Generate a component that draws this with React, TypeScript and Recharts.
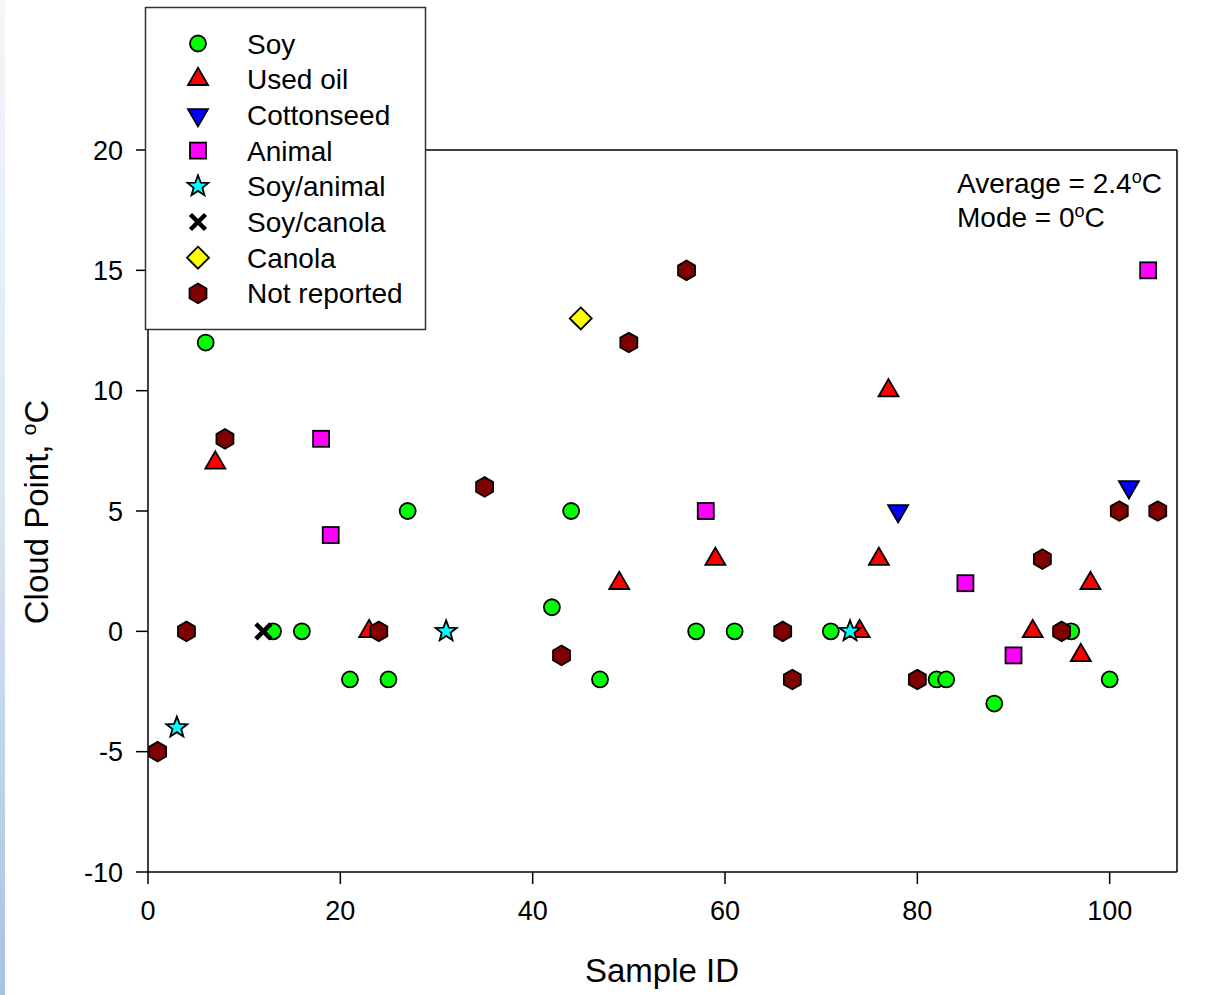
import { ScatterChart, Scatter, XAxis, YAxis, ReferenceLine } from "recharts";

const soyX = [6, 13, 16, 21, 25, 27, 42, 44, 47, 57, 61, 71, 82, 83, 88, 96, 100];
const soyY = [12, 0, 0, -2, -2, 5, 1, 5, -2, 0, 0, 0, -2, -2, -3, 0, -2];

const usedOilX = [7, 23, 49, 59, 74, 76, 77, 92, 97, 98];
const usedOilY = [7, 0, 2, 3, 0, 3, 10, 0, -1, 2];

const cottonX = [78, 102];
const cottonY = [5, 6];

const animalX = [18, 19, 58, 85, 90, 104];
const animalY = [8, 4, 5, 2, -1, 15];

const soyAnimalX = [3, 31, 73];
const soyAnimalY = [-4, 0, 0];

const soyCanolaX = [12];
const soyCanolaY = [0];

const canolaX = [45];
const canolaY = [13];

const notReportedX = [1, 4, 8, 24, 35, 43, 50, 56, 66, 67, 80, 93, 95, 101, 105];
const notReportedY = [-5, 0, 8, 0, 6, -1, 12, 15, 0, -2, -2, 3, 0, 5, 5];

const xTicks = [0, 20, 40, 60, 80, 100];
const yTicks = [-10, -5, 0, 5, 10, 15, 20];

const zip = (xs: number[], ys: number[]) => xs.map((x, i) => ({ x, y: ys[i] }));

const series = [
  { name: "Soy", kind: "circle", color: "#00ff00", data: zip(soyX, soyY) },
  { name: "Used oil", kind: "triangle", color: "#ff0000", data: zip(usedOilX, usedOilY) },
  { name: "Cottonseed", kind: "triangleDown", color: "#0000ff", data: zip(cottonX, cottonY) },
  { name: "Animal", kind: "square", color: "#ff00ff", data: zip(animalX, animalY) },
  { name: "Soy/animal", kind: "star", color: "#00ffff", data: zip(soyAnimalX, soyAnimalY) },
  { name: "Soy/canola", kind: "x", color: "#000000", data: zip(soyCanolaX, soyCanolaY) },
  { name: "Canola", kind: "diamond", color: "#ffff00", data: zip(canolaX, canolaY) },
  { name: "Not reported", kind: "hexagon", color: "#800000", data: zip(notReportedX, notReportedY) },
];

const FONT = "'Liberation Sans', Arial, sans-serif";

function Marker({ kind, cx, cy, fill }: { kind: string; cx: number; cy: number; fill: string }) {
  const common = { fill, stroke: "#000", strokeWidth: 1.8 };
  switch (kind) {
    case "circle":
      return <circle cx={cx} cy={cy} r={8} {...common} />;
    case "triangle":
      return <polygon points={`${cx},${cy - 11.5} ${cx + 10},${cy + 5.8} ${cx - 10},${cy + 5.8}`} {...common} />;
    case "triangleDown":
      return <polygon points={`${cx},${cy + 11.5} ${cx + 10},${cy - 5.8} ${cx - 10},${cy - 5.8}`} {...common} />;
    case "square":
      return <rect x={cx - 8} y={cy - 8} width={16} height={16} {...common} />;
    case "diamond":
      return <polygon points={`${cx},${cy - 11} ${cx + 11},${cy} ${cx},${cy + 11} ${cx - 11},${cy}`} {...common} />;
    case "star": {
      const pts: string[] = [];
      for (let i = 0; i < 10; i++) {
        const r = i % 2 === 0 ? 11 : 4.6;
        const a = -Math.PI / 2 + (i * Math.PI) / 5;
        pts.push(`${cx + r * Math.cos(a)},${cy + r * Math.sin(a)}`);
      }
      return <polygon points={pts.join(" ")} {...common} />;
    }
    case "hexagon": {
      const pts: string[] = [];
      for (let i = 0; i < 6; i++) {
        const a = -Math.PI / 2 + (i * Math.PI) / 3;
        pts.push(`${cx + 9.8 * Math.cos(a)},${cy + 9.8 * Math.sin(a)}`);
      }
      return <polygon points={pts.join(" ")} {...common} />;
    }
    case "x":
      return (
        <g stroke="#000" strokeWidth={4.5} strokeLinecap="butt">
          <line x1={cx - 7.5} y1={cy - 7.5} x2={cx + 7.5} y2={cy + 7.5} />
          <line x1={cx - 7.5} y1={cy + 7.5} x2={cx + 7.5} y2={cy - 7.5} />
        </g>
      );
    default:
      return null;
  }
}

export default function App() {
  return (
    <div
      style={{
        position: "absolute",
        left: 0,
        top: 0,
        width: 1223,
        height: 995,
        background: "#fff",
        fontFamily: FONT,
      }}
    >
      <div
        style={{
          position: "absolute",
          left: 0,
          top: 0,
          width: 5,
          height: 995,
          background: "linear-gradient(to bottom, #f3f6fa, #dbe6f1 50%, #a7c3e0)",
        }}
      />
      <ScatterChart width={1223} height={995} margin={{ top: 150, right: 46, bottom: 83, left: 88 }}>
        <XAxis
          type="number"
          dataKey="x"
          domain={[0, 107]}
          ticks={xTicks}
          allowDataOverflow
          height={40}
          tickSize={12}
          tickMargin={17}
          stroke="#000"
          strokeWidth={1.5}
          tick={{ fill: "#000", fontSize: 27 }}
        />
        <YAxis
          type="number"
          dataKey="y"
          domain={[-10, 20]}
          ticks={yTicks}
          allowDataOverflow
          width={60}
          tickSize={12}
          tickMargin={13}
          stroke="#000"
          strokeWidth={1.5}
          tick={{ fill: "#000", fontSize: 27 }}
        />
        <ReferenceLine y={20} stroke="#000" strokeWidth={1.5} />
        <ReferenceLine x={107} stroke="#000" strokeWidth={1.5} />
        {series.map((s) => (
          <Scatter
            key={s.name}
            name={s.name}
            data={s.data}
            isAnimationActive={false}
            shape={(p: any) => <Marker kind={s.kind} fill={s.color} cx={p.cx} cy={p.cy} />}
          />
        ))}
      </ScatterChart>
      <svg
        width={1223}
        height={995}
        style={{ position: "absolute", left: 0, top: 0, pointerEvents: "none", fontFamily: FONT }}
      >
        <rect x={145.5} y={7.5} width={280} height={322} fill="#fff" stroke="#333" strokeWidth={1.5} />
        {series.map((s, i) => (
          <g key={s.name}>
            <Marker kind={s.kind} fill={s.color} cx={198} cy={43.5 + i * 35.7} />
            <text x={247} y={43.5 + i * 35.7 + 10} fontSize={28} fill="#000">
              {s.name}
            </text>
          </g>
        ))}
        <text x={957} y={193} fontSize={28} fill="#000">
          Average = 2.4<tspan dy={-10} fontSize={18}>o</tspan>
          <tspan dy={10}>C</tspan>
        </text>
        <text x={957} y={227} fontSize={28} fill="#000">
          Mode = 0<tspan dy={-10} fontSize={18}>o</tspan>
          <tspan dy={10}>C</tspan>
        </text>
        <text x={662} y={982} fontSize={33} textAnchor="middle" fill="#000">
          Sample ID
        </text>
        <text transform="translate(48,512) rotate(-90)" fontSize={33} textAnchor="middle" fill="#000">
          Cloud Point, <tspan dy={-12} fontSize={21}>o</tspan>
          <tspan dy={12}>C</tspan>
        </text>
      </svg>
    </div>
  );
}
